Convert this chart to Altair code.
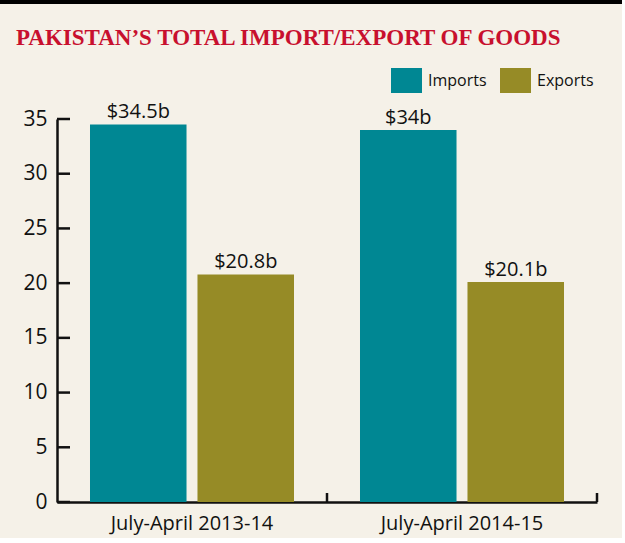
import altair as alt
import pandas as pd

periods = ["July-April 2013-14", "July-April 2014-15"]
types = ["Imports", "Exports"]
imports = [34.5, 34.0]
exports = [20.8, 20.1]
labels_imp = ["$34.5b", "$34b"]
labels_exp = ["$20.8b", "$20.1b"]
y_ticks = [0, 5, 10, 15, 20, 25, 30, 35]
title_text = "PAKISTAN\u2019S TOTAL IMPORT/EXPORT OF GOODS"

rows = []
for i, p in enumerate(periods):
    rows.append({"period": p, "type": "Imports", "value": imports[i], "label": labels_imp[i]})
    rows.append({"period": p, "type": "Exports", "value": exports[i], "label": labels_exp[i]})
df = pd.DataFrame(rows)

BG = "#f5f1e8"
FONT = "Open Sans"

xscale = alt.Scale(domain=periods, paddingInner=0, paddingOuter=0)
xoff = alt.XOffset("type:N", scale=alt.Scale(domain=types, paddingInner=0.102, paddingOuter=0.307))
yscale = alt.Scale(domain=[0, 35], nice=False)

base = alt.Chart(df).encode(
    x=alt.X("period:N", scale=xscale,
            axis=alt.Axis(title=None, labelAngle=0, ticks=False, domain=True,
                          domainColor="#111111", domainWidth=2.5,
                          labelFont=FONT, labelFontSize=20, labelColor="#111111",
                          labelPadding=11)),
    xOffset=xoff,
)

bars = base.mark_bar().encode(
    y=alt.Y("value:Q", scale=yscale,
            axis=alt.Axis(title=None, values=y_ticks, grid=False, ticks=False,
                          domain=True, domainColor="#111111", domainWidth=2.5,
                          labelFont=FONT, labelFontSize=21, labelColor="#111111",
                          labelPadding=10)),
    color=alt.Color("type:N", scale=alt.Scale(domain=types, range=["#008793", "#968b26"]),
                    legend=alt.Legend(title=None, orient="none", direction="horizontal",
                                      legendX=337, legendY=-51, padding=0,
                                      symbolType="M-1.24,-1L1.24,-1L1.24,1L-1.24,1Z",
                                      symbolSize=625, symbolStrokeWidth=0, symbolOpacity=1,
                                      labelFont=FONT, labelFontSize=16, labelColor="#111111",
                                      labelOffset=9, columnPadding=13)),
)

text = base.mark_text(baseline="alphabetic", dy=-6, font=FONT, fontSize=20, color="#111111").encode(
    y=alt.Y("value:Q", scale=yscale),
    text="label:N",
)

tick_df = pd.DataFrame({"v": y_ticks})
yticks = alt.Chart(tick_df).mark_rule(color="#111111", strokeWidth=2.5).encode(
    y=alt.Y("v:Q", scale=yscale),
    x=alt.value(0), x2=alt.value(13),
)

per_df = pd.DataFrame({"period": periods})
xticks = alt.Chart(per_df).mark_rule(color="#111111", strokeWidth=2.5).encode(
    x=alt.X("period:N", bandPosition=1, scale=xscale),
    y=alt.value(374), y2=alt.value(383),
)

topbar = alt.Chart(pd.DataFrame({"a": [0]})).mark_rule(color="#000000", strokeWidth=4).encode(
    x=alt.value(-57), x2=alt.value(565), y=alt.value(-117),
)

chart = alt.layer(bars, text, yticks, xticks, topbar).properties(
    width=540, height=383,
    padding={"left": 57, "top": 119, "right": 25, "bottom": 36},
    autosize=alt.AutoSizeParams(type="none"),
    background=BG,
    title=alt.TitleParams(title_text, anchor="start", frame="group", dx=-41, offset=0, dy=68,
                          baseline="alphabetic", font="Liberation Serif", fontSize=23,
                          fontWeight="bold", color="#c8102e"),
).configure_view(stroke=None)

chart.save("out.html", embed_options={"renderer": "svg", "actions": False})
